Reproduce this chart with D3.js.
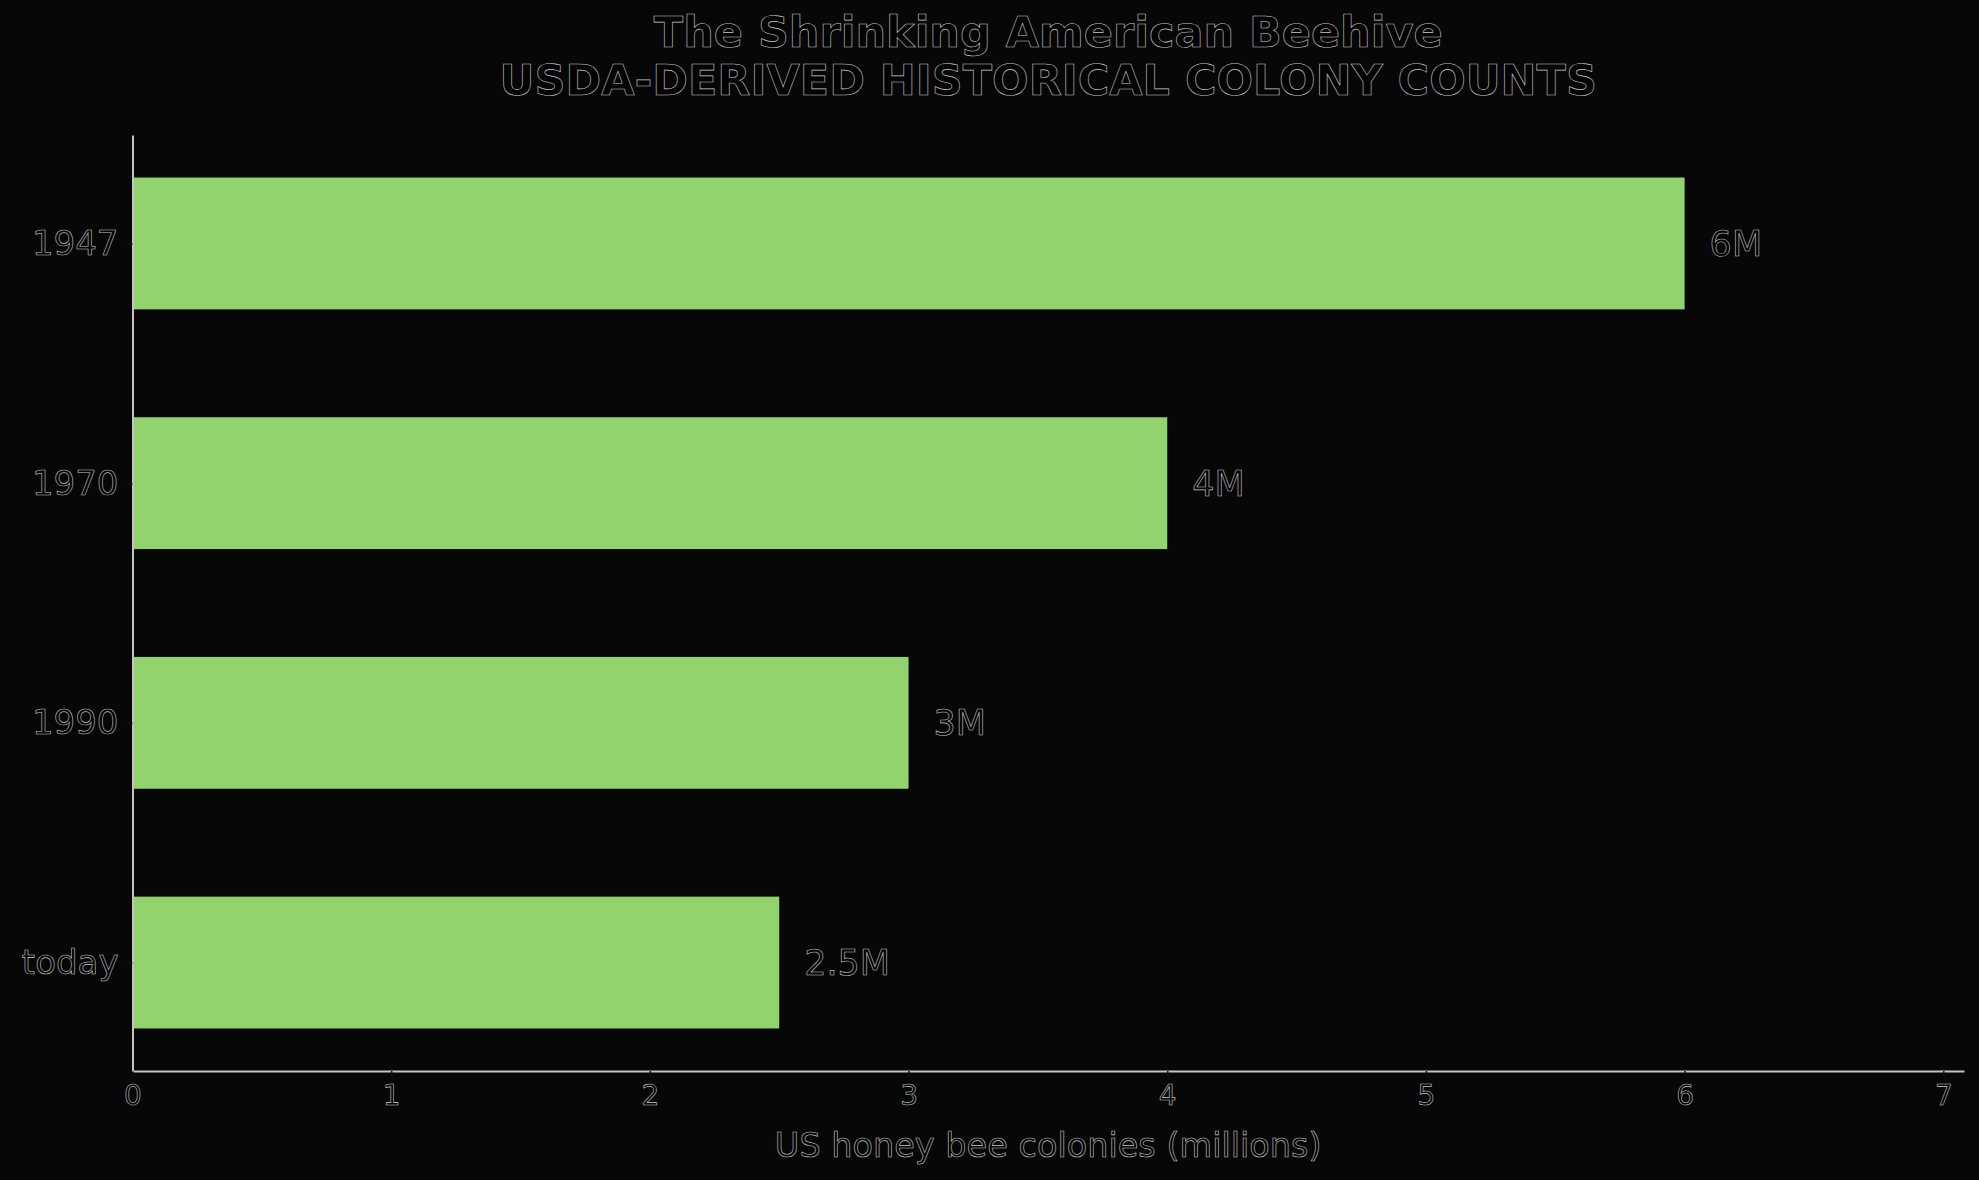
<!DOCTYPE html>
<html><head><meta charset="utf-8">
<script src="https://cdn.jsdelivr.net/npm/d3@7"></script>
<style>
html,body{margin:0;padding:0;background:#070707;}
svg{display:block;}
.t{fill:#030303;stroke:#c8c8c8;stroke-width:0.6px;font-family:"DejaVu Sans",sans-serif;}
</style></head>
<body>
<script>
const categories = ["1947", "1970", "1990", "today"];
const values = [6, 4, 3, 2.5];
const valueLabels = ["6M", "4M", "3M", "2.5M"];
const xTicks = [0, 1, 2, 3, 4, 5, 6, 7];
const titleLines = ["The Shrinking American Beehive", "USDA-DERIVED HISTORICAL COLONY COUNTS"];
const xLabel = "US honey bee colonies (millions)";

const W = 1979, H = 1180;
const m = {left: 132.5, right: 1964, top: 135, bottom: 1071};
const svg = d3.select("body").append("svg").attr("width", W).attr("height", H);
svg.append("rect").attr("width", W).attr("height", H).attr("fill", "#070707");

const xMax = d3.max(values) * 1.18;
const x = d3.scaleLinear().domain([0, xMax]).range([m.left, m.right]);
const barH = 0.55;
const pad = 0.05 * (categories.length - 1 + barH);
const y = d3.scaleLinear().domain([-barH/2 - pad, categories.length - 1 + barH/2 + pad]).range([m.top, m.bottom]);

// bars
svg.selectAll("rect.bar").data(values).join("rect").attr("class","bar")
  .attr("x", x(0))
  .attr("y", (d,i) => y(i - barH/2))
  .attr("width", d => x(d) - x(0))
  .attr("height", (d,i) => y(i + barH/2) - y(i - barH/2))
  .attr("fill", "#92d36d");

// value labels
svg.selectAll("text.val").data(values).join("text").attr("class","t val")
  .attr("x", d => x(d) + 25)
  .attr("y", (d,i) => y(i))
  .attr("dy", "0.36em")
  .attr("font-size", 35)
  .text((d,i) => valueLabels[i]);

// x axis
const gx = svg.append("g").attr("transform", `translate(0,${m.bottom})`)
  .call(d3.axisBottom(x).tickValues(xTicks).tickFormat(d3.format("d")).tickSize(6).tickPadding(8).tickSizeOuter(0));
gx.select(".domain").attr("stroke", "#c4c4c4").attr("stroke-width", 2);
gx.selectAll(".tick line").attr("stroke", "#111").attr("stroke-width", 1.5);
gx.selectAll(".tick text").attr("class","t").attr("font-size", 28).attr("fill", null);

// y axis
const yTickVals = categories.map((c,i) => i);
const gy = svg.append("g").attr("transform", `translate(${m.left},0)`)
  .call(d3.axisLeft(y).tickValues(yTickVals).tickFormat(i => categories[i]).tickSize(6).tickPadding(8).tickSizeOuter(0));
gy.select(".domain").attr("stroke", "#c4c4c4").attr("stroke-width", 2);
gy.selectAll(".tick line").attr("stroke", "#111").attr("stroke-width", 1.5);
gy.selectAll(".tick text").attr("class","t").attr("font-size", 34).attr("fill", null);

// x label
svg.append("text").attr("class","t")
  .attr("x", (m.left + m.right)/2).attr("y", 1157)
  .attr("text-anchor","middle").attr("font-size", 33.5)
  .text(xLabel);

// title
svg.append("text").attr("class","t")
  .attr("x", (m.left + m.right)/2).attr("y", 47)
  .attr("text-anchor","middle").attr("font-size", 43).attr("font-weight","bold")
  .text(titleLines[0]);
svg.append("text").attr("class","t")
  .attr("x", (m.left + m.right)/2).attr("y", 95)
  .attr("text-anchor","middle").attr("font-size", 43).attr("font-weight","bold")
  .text(titleLines[1]);
</script>
</body></html>
